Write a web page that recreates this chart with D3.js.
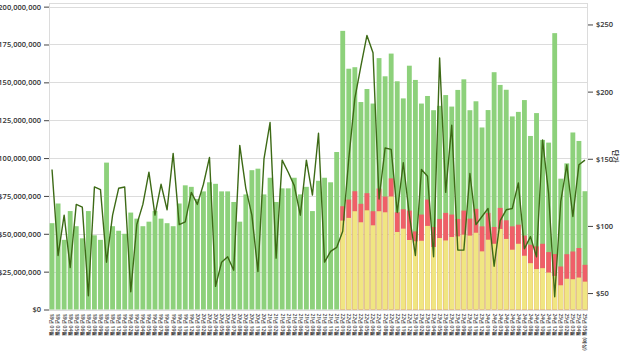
<!DOCTYPE html>
<html>
<head>
<meta charset="utf-8">
<script src="https://cdn.jsdelivr.net/npm/d3@7"></script>
<style>
  body { margin: 0; background: #fff; }
  .tick text { font-family: "Open Sans", sans-serif; }
</style>
</head>
<body>
<div id="chart"></div>
<script>
var categories = [
  "18년 01월","18년 02월","18년 03월","18년 04월","18년 05월","18년 06월","18년 07월","18년 08월","18년 09월","18년 10월","18년 11월","18년 12월",
  "19년 01월","19년 02월","19년 03월","19년 04월","19년 05월","19년 06월","19년 07월","19년 08월","19년 09월","19년 10월","19년 11월","19년 12월",
  "20년 01월","20년 02월","20년 03월","20년 04월","20년 05월","20년 06월","20년 07월","20년 08월","20년 09월","20년 10월","20년 11월","20년 12월",
  "21년 01월","21년 02월","21년 03월","21년 04월","21년 05월","21년 06월","21년 07월","21년 08월","21년 09월","21년 10월","21년 11월","21년 12월",
  "22년 01월","22년 02월","22년 03월","22년 04월","22년 05월","22년 06월","22년 07월","22년 08월","22년 09월","22년 10월","22년 11월","22년 12월",
  "23년 01월","23년 02월","23년 03월","23년 04월","23년 05월","23년 06월","23년 07월","23년 08월","23년 09월","23년 10월","23년 11월","23년 12월",
  "24년 01월","24년 02월","24년 03월","24년 04월","24년 05월","24년 06월","24년 07월","24년 08월","24년 09월","24년 10월","24년 11월","24년 12월",
  "25년 01월","25년 02월","25년 03월","25년 04월","25년 05월 (예상)"
];

// total sales (millions)
var totalSales = [
  57,70,46,65,55,47,65,49,46,97,55,52,
  50,64,60,55,58,65,60,57,55,70,82,81,
  73,78,84,83,78,78,71,58,76,92,93,76,
  87,71,80,80,87,76,81,65,85,87,84,104,
  184,159,160,137,145.6,136,166,154,169,150.7,139.4,161,
  151.6,136,141,131.6,134.5,141.6,134,145,152,131.6,137.5,120.2,
  131.7,156.7,148.3,145.1,127.5,130.5,138.3,114.6,129.7,112,110.2,182.5,
  86.4,96.5,116.9,111.3,78.1
];

// yellow part (millions), only from 22년 01월
var yellowSales = [
  null,null,null,null,null,null,null,null,null,null,null,null,
  null,null,null,null,null,null,null,null,null,null,null,null,
  null,null,null,null,null,null,null,null,null,null,null,null,
  null,null,null,null,null,null,null,null,null,null,null,null,
  58.7,60.5,64.9,57.6,65.5,55.6,64.9,64.2,74.6,51.2,53.4,45.9,
  45,45.4,55.2,41.3,47.2,45.6,47.9,48.3,49.4,48.8,50.7,38.4,
  46.1,43.4,53.2,46.6,39.5,43.4,35.5,30.6,26.7,27.3,24.4,22.2,
  16,20.3,20,21.1,18.4
];

// red part (millions), stacked on yellow
var redSales = [
  null,null,null,null,null,null,null,null,null,null,null,null,
  null,null,null,null,null,null,null,null,null,null,null,null,
  null,null,null,null,null,null,null,null,null,null,null,null,
  null,null,null,null,null,null,null,null,null,null,null,null,
  9.5,12.1,13.2,12.2,11.3,9.3,15,10.4,12,13,12.8,19.4,
  6.6,17.3,17.4,13.2,12.6,18.2,14.8,11.5,15.9,11.2,15.8,16.5,
  17.7,11.1,13.9,12.3,15.4,12.6,13.3,12.2,15,16.1,13.5,14.4,
  12.4,16.2,18.3,19.5,11.1
];

// unit price ($)
var unitPrice = [
  142,78,108,69,116,114,48,129,127,73,108,128,
  129,51,101,116,140,108,131,112,154,101,103,125,
  116,131,151,55,73,77,67,160,128,108,66,150,
  177,76,149,140,130,108,149,123,169,73,81,84,
  96,150,195,219,241.8,229,120,158,157,110,147,108,
  78,142,137,77,225,125,175,82,82,139,101,107,
  113,70,104,112,113,132,83,92,77,164,124,47.2,
  118,145.5,107,145.5,149
];

var leftTicks = [0, 25e6, 50e6, 75e6, 100e6, 125e6, 150e6, 175e6, 200e6];
var rightTicks = [50, 100, 150, 200, 250];

var W = 622, H = 351;
var m = { top: 3, right: 34, bottom: 41.5, left: 49 };
var width = W - m.left - m.right,
    height = H - m.top - m.bottom;

var svg = d3.select('#chart').append('svg')
    .attr('width', W)
    .attr('height', H);
var g = svg.append('g')
    .attr('transform', 'translate(' + m.left + ',' + m.top + ')');

var x = d3.scaleBand()
    .domain(categories)
    .range([0, width])
    .paddingInner(0.2)
    .paddingOuter(0.1);

var y = d3.scaleLinear()
    .domain([0, d3.max(totalSales) * 1e6 * 1.1])
    .range([height, 0]);

var y2 = d3.scaleLinear()
    .domain([d3.min(unitPrice) * 0.8, d3.max(unitPrice) * 1.1])
    .range([height, 0]);

// grid
g.append('g')
    .selectAll('line')
    .data(leftTicks)
    .enter().append('line')
    .attr('x1', 0).attr('x2', width)
    .attr('y1', function(d) { return Math.round(y(d)) + 0.5; })
    .attr('y2', function(d) { return Math.round(y(d)) + 0.5; })
    .attr('stroke', '#dcdcdc');

g.append('rect')
    .attr('x', 0.5).attr('y', 0.5)
    .attr('width', width - 1).attr('height', height)
    .attr('fill', 'none')
    .attr('stroke', '#dcdcdc');

// bars
g.append('g').selectAll('rect')
    .data(categories)
    .enter().append('rect')
    .attr('x', function(d) { return x(d); })
    .attr('width', x.bandwidth())
    .attr('y', function(d, i) { return y(totalSales[i] * 1e6); })
    .attr('height', function(d, i) { return height - y(totalSales[i] * 1e6); })
    .attr('fill', '#8dd17b');

g.append('g').selectAll('rect')
    .data(categories.filter(function(d, i) { return redSales[i] != null; }))
    .enter().append('rect')
    .attr('x', function(d) { return x(d); })
    .attr('width', x.bandwidth())
    .attr('y', function(d) { var i = categories.indexOf(d); return y((yellowSales[i] + redSales[i]) * 1e6); })
    .attr('height', function(d) { var i = categories.indexOf(d); return height - y((yellowSales[i] + redSales[i]) * 1e6); })
    .attr('fill', '#ef5f68');

g.append('g').selectAll('rect')
    .data(categories.filter(function(d, i) { return yellowSales[i] != null; }))
    .enter().append('rect')
    .attr('x', function(d) { return x(d); })
    .attr('width', x.bandwidth())
    .attr('y', function(d) { var i = categories.indexOf(d); return y(yellowSales[i] * 1e6); })
    .attr('height', function(d) { var i = categories.indexOf(d); return height - y(yellowSales[i] * 1e6); })
    .attr('fill', '#f0e682');

// price line
var line = d3.line()
    .x(function(d, i) { return x(categories[i]) + x.bandwidth() / 2; })
    .y(function(d) { return y2(d); });
g.append('path')
    .datum(unitPrice)
    .attr('d', line)
    .attr('fill', 'none')
    .attr('stroke', '#3d6a16')
    .attr('stroke-width', 1.4)
    .attr('stroke-linejoin', 'round');

// axes
var yAxis = d3.axisLeft(y)
    .tickValues(leftTicks)
    .tickSize(5)
    .tickPadding(3)
    .tickFormat(function(d) { return '$' + d3.format(',')(d); });
g.append('g').call(yAxis).call(function(a) {
    a.select('.domain').remove();
    a.selectAll('.tick line').attr('stroke', '#444');
    a.selectAll('.tick text').attr('font-size', 7.5).attr('font-weight', 600).attr('fill', '#333');
});

var y2Axis = d3.axisRight(y2)
    .tickValues(rightTicks)
    .tickSize(5)
    .tickPadding(3)
    .tickFormat(function(d) { return '$' + d; });
g.append('g').attr('transform', 'translate(' + width + ',0)').call(y2Axis).call(function(a) {
    a.select('.domain').remove();
    a.selectAll('.tick line').attr('stroke', '#444');
    a.selectAll('.tick text').attr('font-size', 7.5).attr('font-weight', 600).attr('fill', '#333');
});

var xAxis = d3.axisBottom(x).tickSize(0).tickPadding(0);
g.append('g').attr('transform', 'translate(0,' + height + ')').call(xAxis).call(function(a) {
    a.select('.domain').remove();
    a.selectAll('.tick text')
        .attr('transform', 'rotate(90)')
        .attr('x', 4).attr('y', 0).attr('dy', '0.32em')
        .style('text-anchor', 'start')
        .attr('font-size', 5).attr('font-weight', 600).attr('fill', '#444')
        .attr('font-family', '"Noto Sans CJK KR", sans-serif');
});

svg.append('text')
    .attr('transform', 'translate(613,' + (m.top + height / 2) + ') rotate(90)')
    .attr('text-anchor', 'middle')
    .attr('font-family', '"Noto Sans CJK KR", sans-serif')
    .attr('font-size', 7)
    .attr('font-weight', 600)
    .attr('fill', '#333')
    .text('단가');
</script>
</body>
</html>
